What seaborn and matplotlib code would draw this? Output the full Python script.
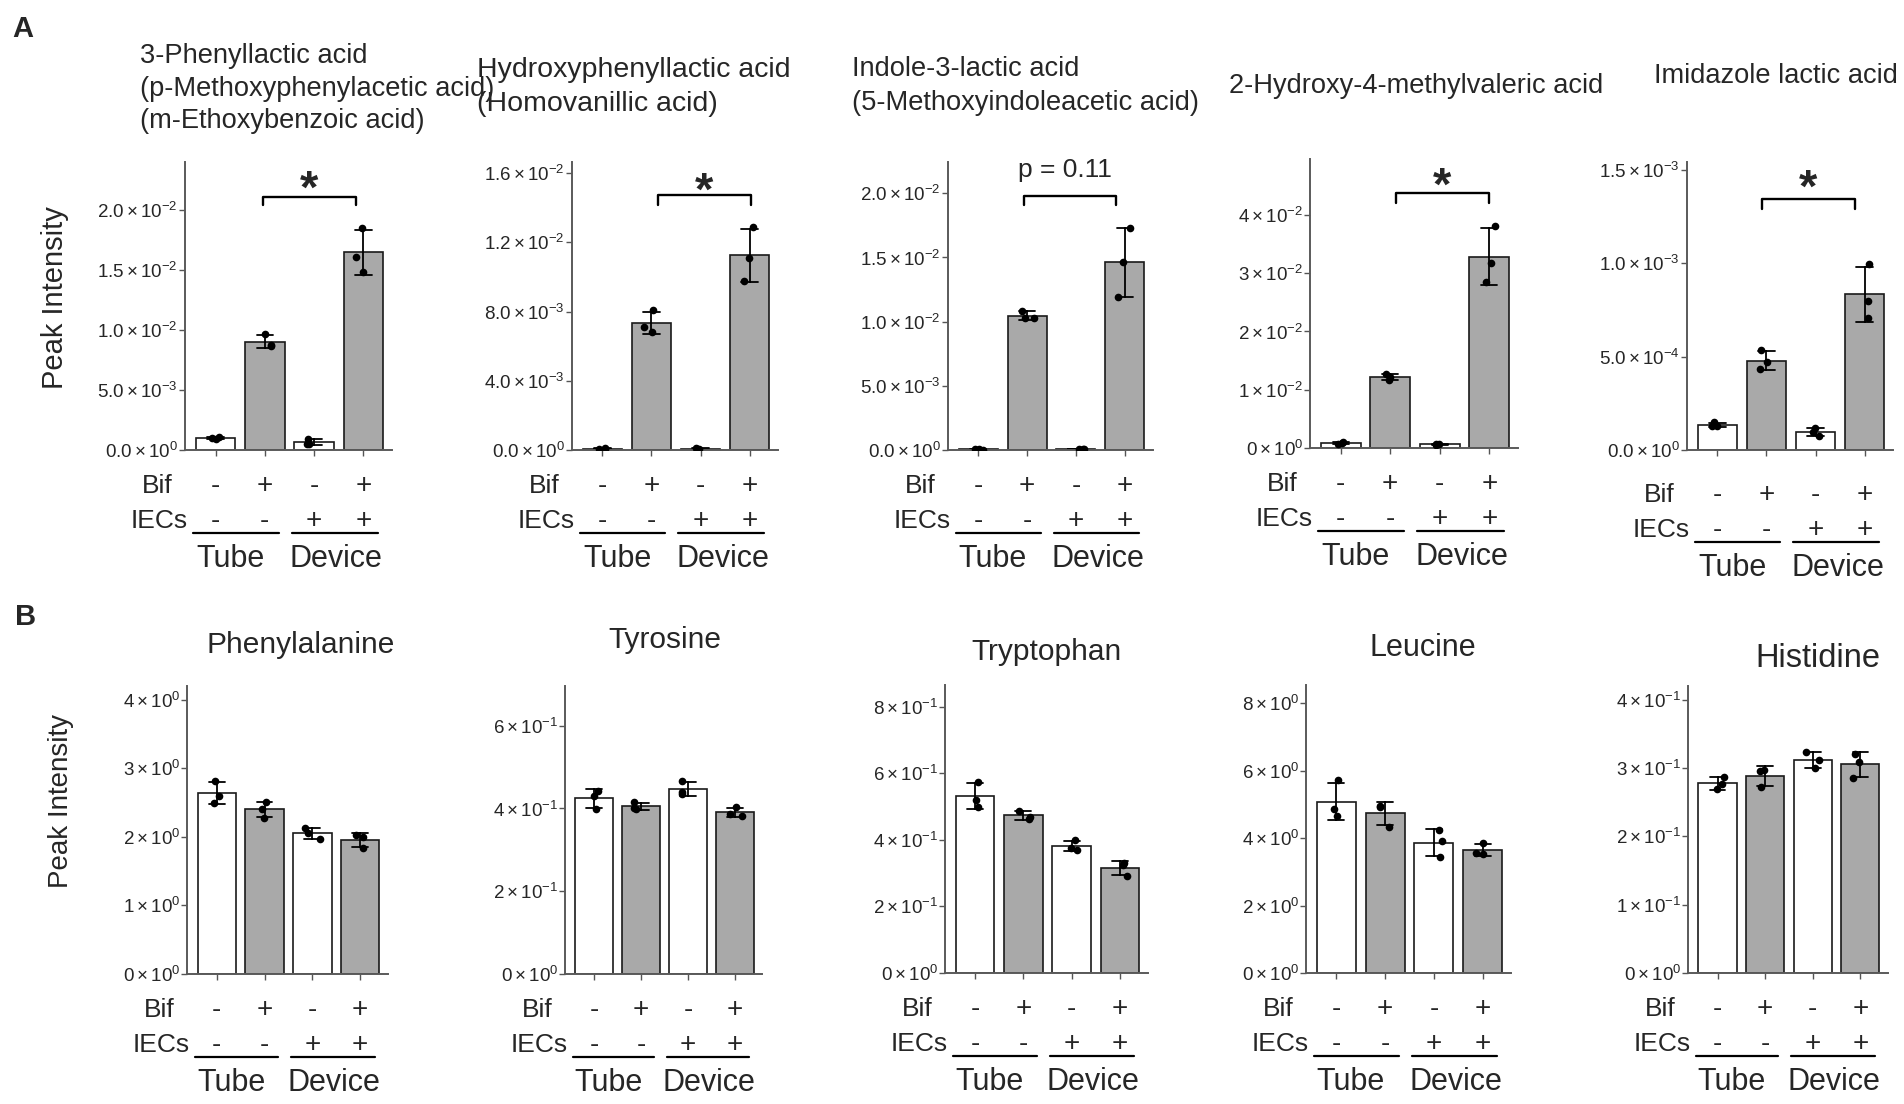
import numpy as np
import pandas as pd
import matplotlib
matplotlib.use("Agg")
import matplotlib.pyplot as plt
import seaborn as sns
from matplotlib.transforms import blended_transform_factory
from matplotlib.lines import Line2D

sns.set_theme(style="ticks")
plt.rcParams["font.family"] = ["Liberation Sans", "DejaVu Sans"]
plt.rcParams["mathtext.fontset"] = "custom"
plt.rcParams["mathtext.rm"] = "Liberation Sans"
plt.rcParams["mathtext.it"] = "Liberation Sans:italic"
plt.rcParams["mathtext.bf"] = "Liberation Sans:bold"
plt.rcParams["mathtext.default"] = "regular"

# ---------------- data ----------------
conditions = ["Tube -Bif", "Tube +Bif", "Device -Bif", "Device +Bif"]
bif_signs = ["-", "+", "-", "+"]
iec_signs = ["-", "-", "+", "+"]
bar_colors = ["white", "#A9A9A9", "white", "#A9A9A9"]

a_titles = [
    ["3-Phenyllactic acid", "(p-Methoxyphenylacetic acid)", "(m-Ethoxybenzoic acid)"],
    ["Hydroxyphenyllactic acid", "(Homovanillic acid)"],
    ["Indole-3-lactic acid", "(5-Methoxyindoleacetic acid)"],
    ["2-Hydroxy-4-methylvaleric acid"],
    ["Imidazole lactic acid"],
]
b_titles = ["Phenylalanine", "Tyrosine", "Tryptophan", "Leucine", "Histidine"]

# replicate values (3 per condition)
a1_vals = [[0.95e-3, 1.05e-3, 1.00e-3], [9.65e-3, 8.70e-3, 8.75e-3],
           [0.94e-3, 0.50e-3, 0.52e-3], [18.52e-3, 16.11e-3, 14.81e-3]]
a2_vals = [[0.13e-3, 0.05e-3, 0.06e-3], [8.06e-3, 7.10e-3, 6.82e-3],
           [0.13e-3, 0.04e-3, 0.05e-3], [12.86e-3, 11.12e-3, 9.79e-3]]
a3_vals = [[0.08e-3, 0.03e-3, 0.04e-3], [10.86e-3, 10.26e-3, 10.26e-3],
           [0.08e-3, 0.07e-3, 0.05e-3], [17.28e-3, 14.63e-3, 11.95e-3]]
a4_vals = [[0.95e-3, 0.93e-3, 0.72e-3], [12.69e-3, 11.71e-3, 12.27e-3],
           [0.60e-3, 0.62e-3, 0.64e-3], [38.17e-3, 31.82e-3, 28.56e-3]]
a5_vals = [[1.48e-4, 1.30e-4, 1.28e-4], [5.36e-4, 4.70e-4, 4.32e-4],
           [1.16e-4, 0.98e-4, 0.77e-4], [9.96e-4, 8.00e-4, 7.05e-4]]

b1_vals = [[2.81, 2.59, 2.50], [2.51, 2.41, 2.28], [2.13, 2.06, 1.97], [2.03, 2.00, 1.84]]
b2_vals = [[0.443, 0.431, 0.399], [0.415, 0.401, 0.399], [0.467, 0.439, 0.435], [0.403, 0.387, 0.381]]
b3_vals = [[0.575, 0.520, 0.500], [0.487, 0.470, 0.463], [0.398, 0.375, 0.370], [0.330, 0.325, 0.292]]
b4_vals = [[5.71, 4.87, 4.67], [4.94, 4.92, 4.33], [4.23, 3.92, 3.44], [3.85, 3.57, 3.53]]
b5_vals = [[0.287, 0.276, 0.269], [0.297, 0.272, 0.296], [0.323, 0.311, 0.300], [0.321, 0.309, 0.286]]

a_vals = [a1_vals, a2_vals, a3_vals, a4_vals, a5_vals]
b_vals = [b1_vals, b2_vals, b3_vals, b4_vals, b5_vals]

a_ylim = [0.024, 0.01664, 0.02244, 0.0496, 1.543e-3]
a_yticks = [[0, 0.005, 0.01, 0.015, 0.02], [0, 0.004, 0.008, 0.012, 0.016],
            [0, 0.005, 0.01, 0.015, 0.02], [0, 0.01, 0.02, 0.03, 0.04],
            [0, 5e-4, 1e-3, 1.5e-3]]
a_dec = [1, 1, 1, 0, 1]
b_ylim = [4.2, 0.696, 0.865, 8.54, 0.42]
b_yticks = [[0, 1, 2, 3, 4], [0, 0.2, 0.4, 0.6], [0, 0.2, 0.4, 0.6, 0.8],
            [0, 2, 4, 6, 8], [0, 0.1, 0.2, 0.3, 0.4]]
b_dec = [0, 0, 0, 0, 0]

# significance annotations: x0, x1, bracket top, bracket foot, label, label y
a_sig = [
    (0.96, 2.84, 2.11e-2, 2.04e-2, "*", 2.24e-2),
    (1.13, 3.03, 14.71e-3, 14.17e-3, "*", 15.4e-3),
    (0.94, 2.82, 19.82e-3, 19.1e-3, "p = 0.11", 21.3e-3),
    (1.11, 3.00, 43.7e-3, 42.0e-3, "*", 46.3e-3),
    (0.91, 2.80, 13.45e-4, 12.9e-4, "*", 14.46e-4),
]

# ---------------- layout (pixels) ----------------
W, H = 1904, 1104
a_boxes = [(185, 162, 392, 450), (572, 162, 778, 450), (948, 162, 1153, 450),
           (1310, 159, 1518, 448), (1687, 162, 1893, 450)]
b_boxes = [(187, 686, 388, 974), (565, 686, 762, 974), (945, 685, 1148, 973),
           (1306, 685, 1511, 973), (1688, 686, 1888, 973)]
a_title_pos = [(140, [63, 96, 128]), (477, [77, 111]), (852, [76, 110]),
               (1229, [93]), (1654, [83])]
a_title_fs = [19.6, 20.5, 19.6, 19.6, 19.6]
b_title_pos = [(301, 653), (665, 648), (1047, 660), (1423, 656), (1818, 667)]
b_title_fs = [21.5, 21.5, 21.5, 22, 23.5]
a_label_shift = [0, 0, 0, 0, 9]
b_label_shift = [0, 0, 0, 0, 0]

np.random.seed(3)
fig = plt.figure(figsize=(W / 100, H / 100), dpi=100)


def fx(px):
    return px / W


def fy(py):
    return 1 - py / H


def sci_label(v, dec):
    if v == 0:
        m, e = 0.0, 0
    else:
        e = int(np.floor(np.log10(abs(v)) + 1e-9))
        m = round(v / 10 ** e, 6)
    return rf"${m:.{dec}f}\times10^{{{e}}}$"


def draw_panel(box, reps, ylim, yticks, dec, shift):
    l, t, r, b = box
    ax = fig.add_axes([fx(l), fy(b), (r - l) / W, (b - t) / H])
    df = pd.DataFrame({"cond": np.repeat(conditions, 3),
                       "val": np.concatenate(reps)})
    sns.barplot(data=df, x="cond", y="val", hue="cond", order=conditions,
                hue_order=conditions, palette=bar_colors, legend=False,
                errorbar="sd", capsize=0.33, width=0.8,
                err_kws={"color": "black", "linewidth": 1.3},
                edgecolor="#1a1a1a", linewidth=1.2, ax=ax)
    sns.stripplot(data=df, x="cond", y="val", order=conditions, color="black",
                  size=5.5, jitter=0.17, ax=ax, zorder=5)
    ax.set_xlim(-0.62, 3.58)
    ax.set_ylim(0, ylim)
    ax.set_xlabel("")
    ax.set_ylabel("")
    ax.set_xticks(range(4))
    ax.set_xticklabels([])
    ax.set_yticks(yticks)
    ax.set_yticklabels([sci_label(v, dec) for v in yticks])
    sns.despine(ax=ax)
    for s in ["left", "bottom"]:
        ax.spines[s].set_color("#5a5a5a")
        ax.spines[s].set_linewidth(1.4)
    ax.tick_params(axis="y", labelsize=13.5, length=4, width=1.0,
                   color="#555555", pad=1)
    ax.tick_params(axis="x", length=4, width=1.0, color="#555555")

    tr = blended_transform_factory(ax.transData, fig.transFigure)
    y_bif = fy(b + 43 + shift)
    y_iec = fy(b + 78 + shift)
    y_line = fy(b + 83 + shift)
    y_grp = fy(b + 117 + shift)
    for i in range(4):
        ax.text(i, y_bif, bif_signs[i], transform=tr, ha="center",
                va="baseline", fontsize=20)
        ax.text(i, y_iec, iec_signs[i], transform=tr, ha="center",
                va="baseline", fontsize=20)
    fig.text(fx(l - 12), y_bif, "Bif", ha="right", va="baseline", fontsize=19)
    fig.text(fx(l + 3), y_iec, "IECs", ha="right", va="baseline", fontsize=19)
    for x0, x1 in [(-0.45, 1.28), (1.55, 3.3)]:
        fig.add_artist(Line2D([x0, x1], [y_line, y_line], transform=tr,
                              color="black", linewidth=1.6))
    ax.text(0.3, y_grp, "Tube", transform=tr, ha="center", va="baseline",
            fontsize=22)
    ax.text(2.45, y_grp, "Device", transform=tr, ha="center", va="baseline",
            fontsize=22)
    return ax


for k in range(5):
    ax = draw_panel(a_boxes[k], a_vals[k], a_ylim[k], a_yticks[k], a_dec[k],
                    a_label_shift[k])
    x0, x1, ytop, yfoot, lab, ylab = a_sig[k]
    ax.plot([x0, x0, x1, x1], [yfoot, ytop, ytop, yfoot], color="black",
            linewidth=1.7, clip_on=False)
    xc = (x0 + x1) / 2
    if lab == "*":
        ax.annotate("*", xy=(xc, ylab), xytext=(0, -0.46 * 34),
                    textcoords="offset points", ha="center", va="baseline",
                    fontsize=34, fontweight="bold", annotation_clip=False)
    else:
        ax.text(xc - 0.1, ylab, lab, ha="center", va="baseline", fontsize=19)
    tx, tys = a_title_pos[k]
    for line, ty in zip(a_titles[k], tys):
        fig.text(fx(tx), fy(ty), line, ha="left", va="baseline",
                 fontsize=a_title_fs[k])

for k in range(5):
    draw_panel(b_boxes[k], b_vals[k], b_ylim[k], b_yticks[k], b_dec[k],
               b_label_shift[k])
    tx, ty = b_title_pos[k]
    fig.text(fx(tx), fy(ty), b_titles[k], ha="center", va="baseline",
             fontsize=b_title_fs[k])

fig.text(fx(12), fy(37), "A", fontsize=21, fontweight="bold", va="baseline")
fig.text(fx(15), fy(625), "B", fontsize=21, fontweight="bold", va="baseline")
fig.text(fx(55), fy(298), "Peak Intensity", rotation=90, ha="center",
         va="center", fontsize=21)
fig.text(fx(61), fy(801), "Peak Intensity", rotation=90, ha="center",
         va="center", fontsize=20)

fig.savefig("out.png", dpi=100, facecolor="white")
